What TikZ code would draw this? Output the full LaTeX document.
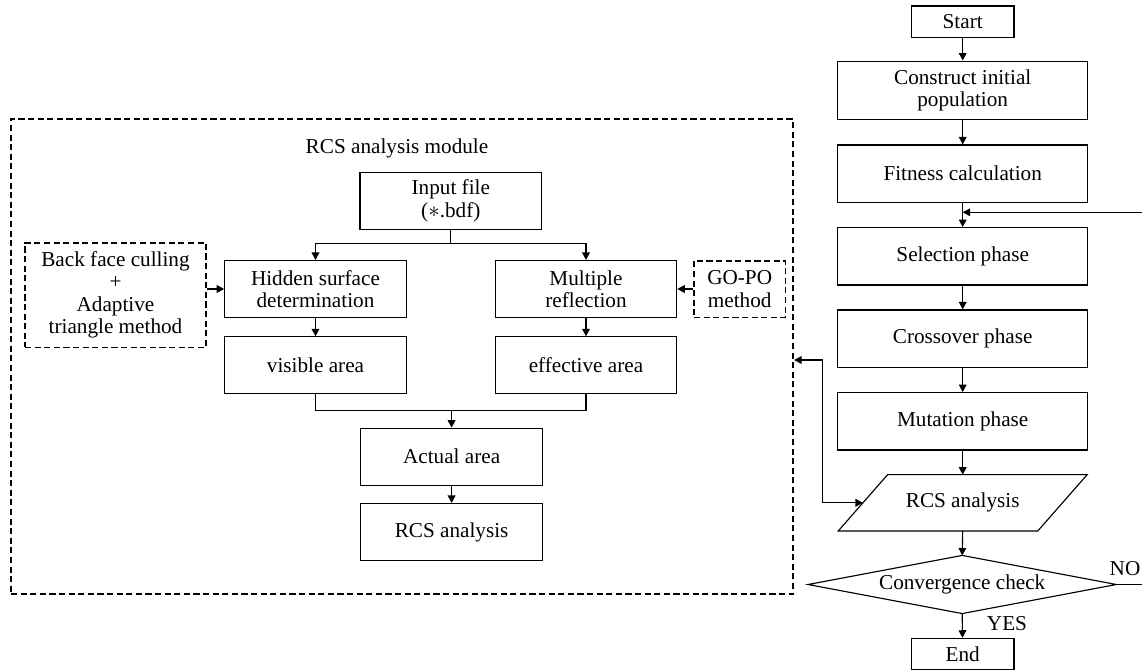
\documentclass[tikz,border=0pt]{standalone}
\usepackage{fontspec}
\setmainfont{Liberation Serif}
\usetikzlibrary{arrows.meta,calc}
\begin{document}
\begin{tikzpicture}[x=0.75pt,y=-0.75pt,
  every node/.style={font=\fontsize{15.9}{16.8}\selectfont, inner sep=0pt, align=center},
  solidbox/.style={draw, line width=0.85pt},
  dashbox/.style={draw, line width=1.25pt, dash pattern=on 4.6pt off 2.6pt},
  mainbox/.style={solidbox, minimum width=187.5pt, minimum height=43.1pt},
  smallbox/.style={solidbox, minimum width=77pt, minimum height=23.6pt},
  leftbox/.style={solidbox, minimum width=136.1pt, minimum height=42.75pt},
  arr/.style={line width=0.85pt, -{Triangle[length=5.6pt,width=5.8pt]}},
  dblarr/.style={line width=0.85pt, {Triangle[length=5.6pt,width=5.8pt]}-{Triangle[length=5.6pt,width=5.8pt]}},
  plain/.style={line width=0.85pt}]
\useasboundingbox (0,0) rectangle (1142,671);

% ---------- right column ----------
\node[smallbox] (start) at (962.7,21.7) {Start};
\node[mainbox, minimum height=43.7pt] (construct) at (962.7,90.2) {Construct initial\\population};
\node[mainbox] (fitness) at (962.7,173.7) {Fitness calculation};
\node[mainbox] (select) at (962.7,256.3) {Selection phase};
\node[mainbox] (cross) at (962.7,338.7) {Crossover phase};
\node[mainbox] (mutat) at (962.7,421.3) {Mutation phase};
\node[minimum width=149.25pt, minimum height=41.8pt] (rcs) at (962.7,502.8) {RCS analysis};
\draw[plain] ([xshift=18.5pt]rcs.north west) -- ([xshift=18.5pt]rcs.north east)
  -- ([xshift=-18.5pt]rcs.south east) -- ([xshift=-18.5pt]rcs.south west) -- cycle;
\node[minimum width=230.8pt, minimum height=43.2pt] (conv) at (962.2,584.5) {Convergence check};
\draw[plain] (conv.north) -- (conv.east) -- (conv.south) -- (conv.west) -- cycle;
\node[smallbox] (end) at (962.7,654) {End};
\node (no) at (1125,569) {NO};
\node (yes) at (1007,624) {YES};

\draw[arr] (start) -- (construct);
\draw[arr] (construct) -- (fitness);
\draw[arr] (fitness) -- (select);
\draw[arr] (select) -- (cross);
\draw[arr] (cross) -- (mutat);
\draw[arr] (mutat) -- (rcs.north);
\draw[arr] (rcs.south) -- (conv.north);
\draw[arr] (conv.south) -- (end);
\coordinate (nocorner) at (1150,584.5);
\coordinate (fbin) at (962.7,212.3);
\draw[arr] (conv.east) -- (nocorner) |- (fbin);

% ---------- RCS analysis module ----------
\node[dashbox, minimum width=586.7pt, minimum height=356pt] (module) at (402.15,356.65) {};
\node (title) at (397,148) {RCS analysis module};
\node[leftbox, minimum width=136.3pt] (inp) at (450.8,200.8) {Input file\\(\ensuremath{*}.bdf)};
\node[leftbox] (hid) at (315.5,289) {Hidden surface\\determination};
\node[leftbox] (mul) at (586,289) {Multiple\\reflection};
\node[leftbox] (vis) at (315.5,365.3) {visible area};
\node[leftbox] (eff) at (586,365.3) {effective area};
\node[leftbox] (act) at (451.6,456.7) {Actual area};
\node[leftbox] (rcsb) at (451.6,532) {RCS analysis};
\node[dashbox, minimum width=135.75pt, minimum height=78.5pt] (bf) at (115.5,295)
  {Back face culling\\+\\Adaptive\\triangle method};
\node[dashbox, minimum width=68.5pt, minimum height=42.5pt] (gp) at (739.7,289) {GO-PO\\method};

\draw[arr] (inp.south) -- ++(0,13.5) -| (hid.north);
\draw[arr] (inp.south) -- ++(0,13.5) -| (mul.north);
\draw[arr] (hid) -- (vis);
\draw[arr] (mul) -- (eff);
\coordinate (merge) at (451.6,410.7);
\draw[plain] (vis.south) |- (merge) -| (eff.south);
\draw[arr] (merge) -- (act);
\draw[arr] (act) -- (rcsb);
\draw[arr] (bf.east |- hid.west) -- (hid.west);
\draw[arr] (gp.west) -- (mul.east);

% ---------- link between module and flow ----------
\coordinate (link) at (822.7,360);
\draw[dblarr] (module.east |- link) -- (link) |- (rcs.west);
\end{tikzpicture}
\end{document}
